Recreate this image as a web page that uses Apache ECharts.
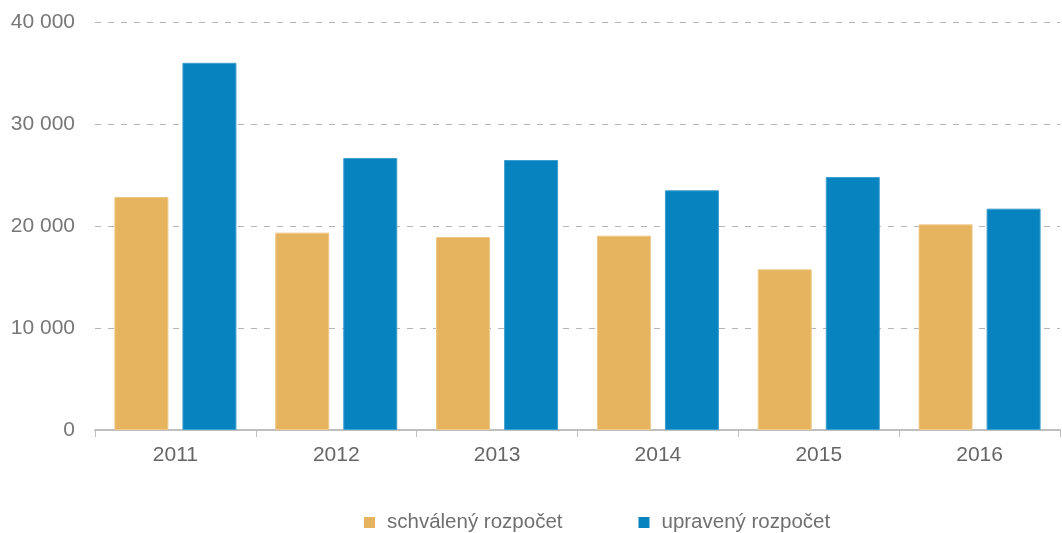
<!DOCTYPE html>
<html>
<head>
<meta charset="utf-8">
<script src="https://cdn.jsdelivr.net/npm/echarts@6/dist/echarts.min.js"></script>
<style>
  html, body { margin: 0; padding: 0; background: #fff; }
  #chart { width: 1062px; height: 533px; }
</style>
</head>
<body>
<div id="chart"></div>
<script>
// roky a hodnoty
const years = ['2011', '2012', '2013', '2014', '2015', '2016'];
const schvaleny = [22850, 19350, 18920, 19050, 15750, 20160];
const upraveny = [36000, 26670, 26470, 23500, 24800, 21700];

const chart = echarts.init(document.getElementById('chart'));

const fmt = v => String(v).replace(/\B(?=(\d{3})+(?!\d))/g, ' ');

chart.setOption({
  animation: false,
  textStyle: { fontFamily: 'Liberation Sans, Arial, sans-serif' },
  grid: { left: 95, right: 2, top: 22, bottom: 103 },
  legend: {
    left: 359,
    top: 507,
    itemWidth: 11,
    itemHeight: 11,
    itemGap: 76,
    icon: 'rect',
    itemStyle: { borderWidth: 0 },
    textStyle: { color: '#707070', fontSize: 20.5, padding: [0, 0, 0, 7] },
    data: ['schválený rozpočet', 'upravený rozpočet']
  },
  xAxis: {
    type: 'category',
    data: years,
    axisLine: { lineStyle: { color: '#bfbfbf', width: 2 } },
    axisTick: { show: true, length: 7, lineStyle: { color: '#bfbfbf' } },
    axisLabel: { color: '#666', fontSize: 21, margin: 15 }
  },
  yAxis: {
    type: 'value',
    min: 0,
    max: 40000,
    interval: 10000,
    axisLine: { show: false },
    axisTick: { show: false },
    axisLabel: { color: '#777', fontSize: 21, margin: 20, formatter: fmt },
    splitLine: { lineStyle: { color: '#b5b5b5', type: [6, 7], width: 1 } }
  },
  series: [
    {
      name: 'schválený rozpočet',
      type: 'bar',
      data: schvaleny,
      barWidth: 54,
      barGap: '26%',
      itemStyle: { color: '#E6B45F', borderColor: '#edc98a', borderWidth: 1 }
    },
    {
      name: 'upravený rozpočet',
      type: 'bar',
      data: upraveny,
      barWidth: 54,
      barGap: '26%',
      itemStyle: { color: '#0784C0', borderColor: '#3d9fd0', borderWidth: 1 }
    }
  ]
});
</script>
</body>
</html>
